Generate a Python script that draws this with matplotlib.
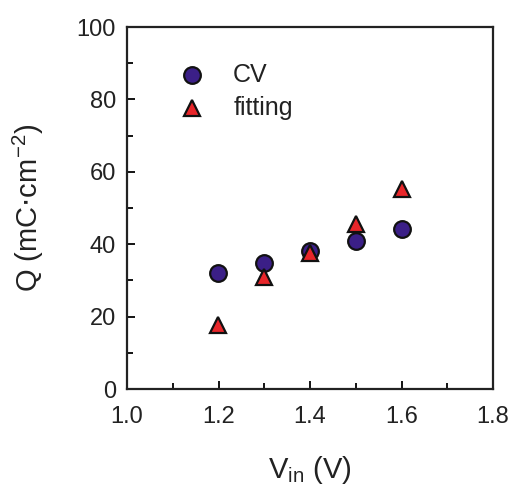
import matplotlib
matplotlib.use("Agg")
import matplotlib.pyplot as plt
from matplotlib.ticker import MultipleLocator, FormatStrFormatter

plt.rcParams['font.family'] = ['Liberation Sans', 'DejaVu Sans']

v_in = [1.2, 1.3, 1.4, 1.5, 1.6]
q_cv = [32.0, 34.7, 38.2, 41.0, 44.2]
q_fit = [17.8, 31.0, 37.6, 45.7, 55.2]

cv_style = dict(linestyle='none', marker='o', markersize=12,
                markerfacecolor='#3b1f87', markeredgecolor='#111111', markeredgewidth=1.6)
fit_style = dict(linestyle='none', marker='^', markersize=11.5,
                 markerfacecolor='#e8262a', markeredgecolor='#111111', markeredgewidth=1.6)

fig = plt.figure(figsize=(5.10, 4.91), dpi=100)
ax = fig.add_axes([127/510, 1 - 389/491, (493-127)/510, (389-27)/491])

ax.plot(v_in, q_cv, **cv_style)
ax.plot(v_in, q_fit, **fit_style)

# legend drawn as marker + text pairs inside the axes
ax.plot([1.142], [86.7], **cv_style)
ax.plot([1.142], [77.6], **fit_style)
ax.text(1.232, 86.7, 'CV', fontsize=18, va='center', ha='left', color='#222222')
ax.text(1.232, 77.6, 'fitting', fontsize=18, va='center', ha='left', color='#222222')

ax.set_xlim(1.0, 1.8)
ax.set_ylim(0, 100)
ax.xaxis.set_major_locator(MultipleLocator(0.2))
ax.xaxis.set_minor_locator(MultipleLocator(0.1))
ax.yaxis.set_major_locator(MultipleLocator(20))
ax.yaxis.set_minor_locator(MultipleLocator(10))
ax.xaxis.set_major_formatter(FormatStrFormatter('%.1f'))

ax.tick_params(which='both', direction='in', top=False, right=False,
               labelsize=17, labelcolor='#222222', width=1.3)
ax.tick_params(which='major', length=6)
ax.tick_params(axis='x', which='major', pad=12)
ax.tick_params(axis='y', which='major', pad=8)
ax.tick_params(which='minor', length=4)
for s in ax.spines.values():
    s.set_linewidth(1.6)
    s.set_color('#222222')

ax.set_xlabel(r'V$_{\mathregular{in}}$ (V)', fontsize=21, color='#222222', labelpad=19)
ax.set_ylabel(r'Q (mC$\cdot$cm$^{\mathregular{-2}}$)', fontsize=21, color='#222222', labelpad=22)

fig.savefig('out.png', dpi=100)
